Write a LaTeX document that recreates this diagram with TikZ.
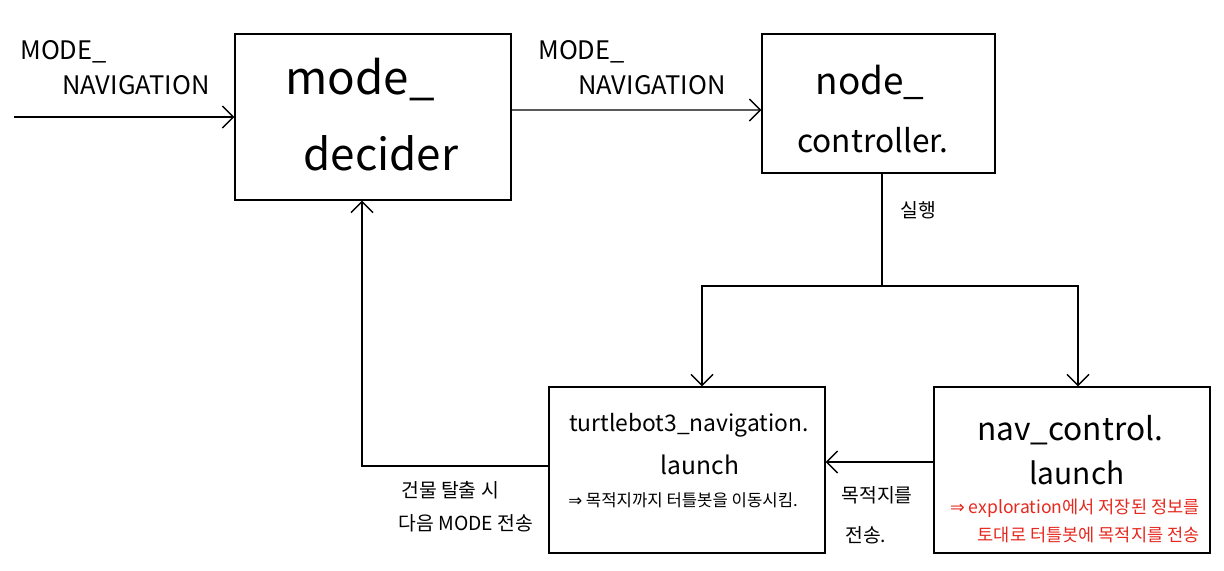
\documentclass[tikz,border=0pt]{standalone}
\usepackage{fontspec}
\setmainfont{Noto Sans CJK KR}
\newfontfamily\symfont{DejaVu Sans}
\usetikzlibrary{arrows.meta}
\definecolor{notered}{RGB}{230,40,30}
\begin{document}
\begin{tikzpicture}[
    box/.style={draw, line width=0.8pt, minimum width=5.52cm, minimum height=3.32cm, inner sep=0pt},
    conn/.style={line width=0.8pt},
    arr/.style={conn, -{Straight Barb[length=2.2mm,width=4.4mm]}},
    lbl/.style={inner sep=0pt, font=\fontsize{11}{13}\selectfont},
    mode/.style={lbl, anchor=west, font=\fontsize{14.5}{16}\selectfont}
  ]
    \useasboundingbox (0,0) rectangle (24.48,-11.4);

    % Boxes
    \node [box] (decider) at (7.46,-2.34) {};
    \node [box, minimum width=4.66cm, minimum height=2.78cm] (controller) at (17.57,-2.07) {};
    \node [box] (navlaunch) at (13.74,-9.4) {};
    \node [box] (ctrllaunch) at (21.44,-9.4) {};

    % Box texts
    \node [inner sep=0pt, font=\fontsize{26}{30}\selectfont] (t1) at (7.2,-1.6) {mode\_};
    \node [inner sep=0pt, font=\fontsize{25}{30}\selectfont] (t2) at (7.62,-3.06) {decider};
    \node [inner sep=0pt, font=\fontsize{21}{26}\selectfont] (t3) at (17.4,-1.64) {node\_};
    \node [inner sep=0pt, font=\fontsize{18}{22}\selectfont] (t4) at (17.46,-2.8) {controller.};
    \node [inner sep=0pt, font=\fontsize{13}{16}\selectfont] (t5) at (13.78,-8.5) {turtlebot3\_navigation.};
    \node [inner sep=0pt, font=\fontsize{14}{16}\selectfont] (t6) at (14.0,-9.3) {launch};
    \node [lbl, font=\fontsize{9.5}{12}\selectfont] (t7) at (13.66,-10.0) {{\symfont ⇒} 목적지까지 터틀봇을 이동시킴.};
    \node [inner sep=0pt, font=\fontsize{18}{22}\selectfont] (t8) at (21.4,-8.6) {nav\_control.};
    \node [inner sep=0pt, font=\fontsize{17}{20}\selectfont] (t9) at (21.54,-9.46) {launch};
    \node [lbl, anchor=east, text=notered, font=\fontsize{10}{12}\selectfont] (t10) at (24.0,-10.16) {{\symfont ⇒} exploration에서 저장된 정보를};
    \node [lbl, anchor=east, text=notered, font=\fontsize{10}{12}\selectfont] (t11) at (24.0,-10.7) {토대로 터틀봇에 목적지를 전송};

    % Connectors
    \coordinate (start) at (0.28,-2.34);
    \coordinate (split) at ([xshift=0.07cm]controller.south |- 0,-5.72);
    \draw [arr] (start) -- (decider.west);
    \draw [arr] ([yshift=0.14cm]decider.east) -- ([yshift=-0.13cm]controller.west);
    \draw [conn] ([xshift=0.07cm]controller.south) -- (split);
    \draw [arr] (split) -| ([xshift=0.3cm]navlaunch.north);
    \draw [arr] (split) -| ([xshift=0.12cm]ctrllaunch.north);
    \draw [arr] ([yshift=0.16cm]ctrllaunch.west) -- ([yshift=0.16cm]navlaunch.east);
    \draw [arr] ([yshift=0.08cm]navlaunch.west) -| ([xshift=-0.22cm]decider.south);

    % Labels
    \node [mode] (m1) at (0.4,-1.04) {MODE\_};
    \node [mode] (n1) at (1.24,-1.7) {NAVIGATION};
    \node [mode] (m2) at (10.76,-1.04) {MODE\_};
    \node [mode] (n2) at (11.56,-1.7) {NAVIGATION};
    \node [lbl] (run) at (18.36,-4.2) {실행};
    \node [lbl] (goal1) at (17.54,-9.9) {목적지를};
    \node [lbl, anchor=west] (goal2) at (16.9,-10.7) {전송.};
    \node [lbl] (exit1) at (9.0,-9.8) {건물 탈출 시};
    \node [lbl] (exit2) at (9.32,-10.46) {다음 MODE 전송};
\end{tikzpicture}
\end{document}
